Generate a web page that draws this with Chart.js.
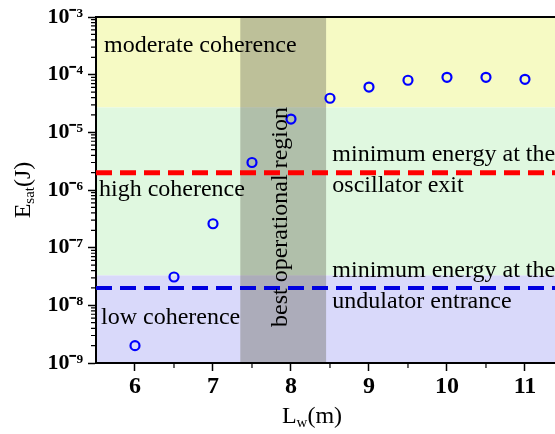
<!DOCTYPE html>
<html>
<head>
<meta charset="utf-8">
<script src="https://cdn.jsdelivr.net/npm/chart.js@4.4.0/dist/chart.umd.min.js"></script>
<style>html,body{margin:0;padding:0;background:#fff;overflow:hidden}</style>
</head>
<body>
<canvas id="grafico" width="555" height="434"></canvas>
<script>
// datos
const longitudes = [6, 6.5, 7, 7.5, 8, 8.5, 9, 9.5, 10, 10.5, 11];
const energias = [2.0e-9, 3.1e-8, 2.6e-7, 3.0e-6, 1.7e-5, 3.9e-5, 6.1e-5, 8.0e-5, 9.0e-5, 9.0e-5, 8.3e-5];
const energiaOscilador = 2.0e-6;
const energiaOndulador = 2.0e-8;
const limitesCoherencia = [1e-3, 2.7e-5, 3.3e-8, 1e-9];
const regionOptima = [7.35, 8.45];
const ticksX = [6, 7, 8, 9, 10, 11];
const etiquetasX = ["6", "7", "8", "9", "10", "11"];
const ticksY = [1e-9, 1e-8, 1e-7, 1e-6, 1e-5, 1e-4, 1e-3];
const etiquetasY = ["10\u207B\u2079", "10\u207B\u2078", "10\u207B\u2077", "10\u207B\u2076", "10\u207B\u2075", "10\u207B\u2074", "10\u207B\u00B3"];

const X_MIN = 5.5, X_MAX = 11.385;
const FUENTE = "Liberation Serif";

// texto con subindice: partes [{t, s, dy}]
function textoPartes(ctx, partes, x, y) {
    let ancho = 0;
    partes.forEach(p => { ctx.font = p.s + "px " + FUENTE; ancho += ctx.measureText(p.t).width; });
    let cx = x - ancho / 2;
    partes.forEach(p => {
        ctx.font = p.s + "px " + FUENTE;
        ctx.fillText(p.t, cx, y + (p.dy || 0));
        cx += ctx.measureText(p.t).width;
    });
}

const fondos = {
    id: "fondos",
    beforeDraw(chart) {
        const { ctx, chartArea: a, scales: { x, y } } = chart;
        const colores = ["#f6fac4", "#e0f8e0", "#d9d9fa"];
        ctx.save();
        for (let i = 0; i < 3; i++) {
            const y1 = y.getPixelForValue(limitesCoherencia[i]);
            const y2 = y.getPixelForValue(limitesCoherencia[i + 1]);
            ctx.fillStyle = colores[i];
            ctx.fillRect(a.left, y1, a.right - a.left, y2 - y1);
        }
        const x1 = x.getPixelForValue(regionOptima[0]);
        const x2 = x.getPixelForValue(regionOptima[1]);
        ctx.fillStyle = "rgba(105,105,90,0.4)";
        ctx.fillRect(x1, a.top, x2 - x1, a.bottom - a.top);
        ctx.restore();
    },
    afterDraw(chart) {
        const { ctx, chartArea: a, scales: { x, y } } = chart;
        ctx.save();
        ctx.fillStyle = "#000";
        ctx.strokeStyle = "#000";

        // linea superior del marco
        ctx.lineWidth = 2;
        ctx.beginPath();
        ctx.moveTo(a.left, a.top);
        ctx.lineTo(a.right, a.top);
        ctx.stroke();

        // ticks menores
        ctx.lineWidth = 1.2;
        ctx.beginPath();
        for (let v = 6.5; v < X_MAX; v += 1) {
            const px = x.getPixelForValue(v);
            ctx.moveTo(px, a.bottom);
            ctx.lineTo(px, a.bottom + 5);
        }
        for (let e = -9; e < -3; e++) {
            for (let m = 2; m <= 9; m++) {
                const py = y.getPixelForValue(m * Math.pow(10, e));
                ctx.moveTo(a.left - 5, py);
                ctx.lineTo(a.left, py);
            }
        }
        ctx.stroke();

        // anotaciones
        ctx.textBaseline = "middle";
        ctx.textAlign = "left";
        ctx.font = "24px " + FUENTE;
        const xt = x.getPixelForValue(8.53);
        ctx.fillText("moderate coherence", a.left + 8, 46);
        ctx.fillText("high coherence", a.left + 3, 190);
        ctx.fillText("low coherence", a.left + 5, 318);
        ctx.fillText("minimum energy at the", xt, 155);
        ctx.fillText("oscillator exit", xt, 186);
        ctx.fillText("minimum energy at the", xt, 271);
        ctx.fillText("undulator entrance", xt, 302);

        ctx.save();
        ctx.translate(x.getPixelForValue(7.87), 217);
        ctx.rotate(-Math.PI / 2);
        ctx.textAlign = "center";
        ctx.fillText("best operational region", 0, 0);
        ctx.restore();

        // titulos de ejes
        ctx.textAlign = "left";
        ctx.textBaseline = "alphabetic";
        textoPartes(ctx, [{ t: "L", s: 24 }, { t: "w", s: 15, dy: 4 }, { t: "(m)", s: 24 }], 312, 423);
        ctx.save();
        ctx.translate(30, 190);
        ctx.rotate(-Math.PI / 2);
        textoPartes(ctx, [{ t: "E", s: 24 }, { t: "sat", s: 15, dy: 4 }, { t: "(J)", s: 24 }], 0, 0);
        ctx.restore();

        ctx.restore();
    }
};

const ctx = document.getElementById("grafico").getContext("2d");
new Chart(ctx, {
    type: "scatter",
    data: {
        datasets: [{
            data: longitudes.map((l, i) => ({ x: l, y: energias[i] })),
            pointStyle: "circle",
            pointRadius: 4.5,
            borderWidth: 2.2,
            borderColor: "#0000ff",
            backgroundColor: "rgba(0,0,0,0)"
        }, {
            data: [{ x: X_MIN, y: energiaOscilador }, { x: X_MAX, y: energiaOscilador }],
            showLine: true,
            pointRadius: 0,
            borderColor: "#ff0000",
            borderWidth: 5,
            borderDash: [16, 8]
        }, {
            data: [{ x: X_MIN, y: energiaOndulador }, { x: X_MAX, y: energiaOndulador }],
            showLine: true,
            pointRadius: 0,
            borderColor: "#0000e0",
            borderWidth: 4,
            borderDash: [16, 8]
        }]
    },
    options: {
        responsive: false,
        animation: false,
        layout: { autoPadding: false, padding: { top: 17, left: 0, right: 0, bottom: 0 } },
        plugins: {
            legend: { display: false },
            tooltip: { enabled: false }
        },
        scales: {
            x: {
                type: "linear",
                min: X_MIN,
                max: X_MAX,
                afterBuildTicks: s => { s.ticks = ticksX.map(v => ({ value: v })); },
                afterFit: s => { s.height = 71; s.paddingLeft = 0; s.paddingRight = 0; },
                border: { color: "#000", width: 2 },
                grid: { drawOnChartArea: false, tickLength: 8, tickColor: "#000", tickWidth: 1.5 },
                ticks: {
                    autoSkip: false,
                    maxRotation: 0,
                    padding: 1,
                    color: "#000",
                    font: { family: FUENTE, size: 24, weight: "bold" },
                    callback: v => etiquetasX[ticksX.indexOf(v)]
                }
            },
            y: {
                type: "logarithmic",
                min: 1e-9,
                max: 1e-3,
                afterBuildTicks: s => { s.ticks = ticksY.map(v => ({ value: v })); },
                afterFit: s => { s.width = 96; s.paddingTop = 0; s.paddingBottom = 0; },
                border: { color: "#000", width: 2 },
                grid: { drawOnChartArea: false, tickLength: 8, tickColor: "#000", tickWidth: 1.5 },
                ticks: {
                    autoSkip: false,
                    padding: 5,
                    color: "#000",
                    font: { family: FUENTE, size: 22, weight: "bold" },
                    callback: v => etiquetasY[ticksY.indexOf(v)]
                }
            }
        }
    },
    plugins: [fondos]
});
</script>
</body>
</html>
